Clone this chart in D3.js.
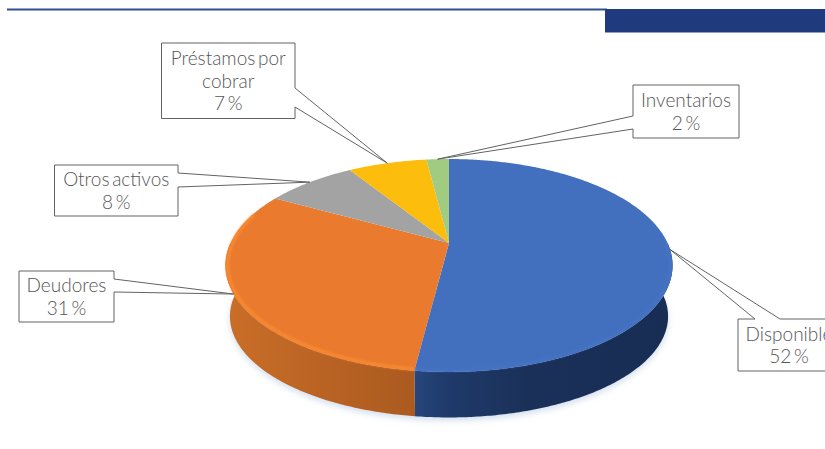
<!DOCTYPE html>
<html lang="es">
<head>
<meta charset="utf-8">
<script src="https://cdn.jsdelivr.net/npm/d3@7"></script>
<style>
  html, body { margin: 0; padding: 0; background: #fff; overflow: hidden; }
  svg { display: block; }
  text { font-family: Lato, "Open Sans", sans-serif; font-weight: 300; font-size: 19px; word-spacing: -2.5px; fill: #565656; text-anchor: middle; }
</style>
</head>
<body>
<svg id="chart" width="825" height="449"></svg>
<script>
// Composition of assets, percentages.
const categories = ["Disponible", "Deudores", "Otros activos", "Préstamos por cobrar", "Inventarios"];
const shares = [52, 31, 8, 7, 2];
const labelLines = [["Disponible"], ["Deudores"], ["Otros activos"], ["Préstamos por", "cobrar"], ["Inventarios"]];
const sliceColors = ["#4270bf", "#ea7a2e", "#a3a3a3", "#fdbd0c", "#a1cb80"];
const rimColors = ["#4674c5", "#f98a30", "#b0b0b0", "#fdc52a", "#add48e"];

// Callout boxes: [x, y, width, height] and the two points where each wedge leaves the box.
const boxes = [[738, 319, 102, 52], [19, 271, 95, 51], [54.5, 165, 123.5, 51], [161.5, 43, 133.5, 75.5], [633, 85, 106, 53]];
const wedgeRoots = [
  [[780, 319], [755, 319]],
  [[114, 279], [114, 292]],
  [[178, 173], [178, 187]],
  [[295, 88], [295, 107]],
  [[633, 116], [633, 129]]
];

const svg = d3.select("#chart");
const defs = svg.append("defs");

// Perspective view of the disc: the pie centre sits above the centre of the projected ellipse.
const apex = { x: 449, y: 243 };
const tilt = 0.211;
const xScale = d3.scaleLinear().domain([-1, 1]).range([apex.x - 218.5, apex.x + 218.5]);
const yScale = d3.scaleLinear().domain([-1, 1]).range([apex.y + 101.7, apex.y - 101.7]);

function project(angle, radius = 1) {
  const u = radius * Math.sin(angle), v = radius * Math.cos(angle), w = 1 + tilt * v;
  return [xScale(u / w), yScale(v / w)];
}
// Lower edge of the disc, used for the side wall.
function projectBase(angle) {
  const [x, y] = project(angle);
  return [apex.x + (x - apex.x) * 0.98, apex.y + (y - apex.y) * 0.95 + 52];
}
function samples(a0, a1) {
  const n = Math.max(2, Math.ceil(Math.abs(a1 - a0) / 0.01));
  return d3.range(n + 1).map(i => a0 + (a1 - a0) * i / n);
}
const line = d3.line();

const arcs = d3.pie().sort(null).value(d => d)(shares);
const HALF = Math.PI / 2;

// Soft shadow under the disc.
defs.append("filter").attr("id", "soft").attr("x", "-10%").attr("y", "-10%").attr("width", "120%").attr("height", "120%")
  .append("feGaussianBlur").attr("stdDeviation", 3);
defs.append("filter").attr("id", "softRim").attr("x", "-10%").attr("y", "-10%").attr("width", "120%").attr("height", "120%")
  .append("feGaussianBlur").attr("stdDeviation", 0.8);

const rimRange = samples(HALF, 3 * HALF);
svg.append("path")
  .attr("d", line(rimRange.map(projectBase).map(([x, y]) => [x, y + 3])) + "Z")
  .attr("fill", "#c3d3e6").attr("opacity", 0.75).attr("filter", "url(#soft)");

// Shading along the side wall, one gradient per visible slice.
const wallStops = {
  0: [["0%", "#27467c"], ["12%", "#1f3a6b"], ["45%", "#1a3058"], ["100%", "#182d54"]],
  1: [["0%", "#c96e28"], ["45%", "#bb6424"], ["100%", "#ab5a20"]]
};
Object.entries(wallStops).forEach(([i, stops]) => {
  const g = defs.append("linearGradient").attr("id", "wall" + i).attr("gradientUnits", "userSpaceOnUse");
  if (+i === 0) g.attr("x1", 415).attr("x2", 672); else g.attr("x1", 230).attr("x2", 415);
  g.attr("y1", 0).attr("y2", 0);
  stops.forEach(([o, c]) => g.append("stop").attr("offset", o).attr("stop-color", c));
});

// Side wall of the front-facing slices.
arcs.forEach((d, i) => {
  const a0 = Math.max(d.startAngle, HALF), a1 = Math.min(d.endAngle, 3 * HALF);
  if (a1 <= a0) return;
  const range = samples(a0, a1);
  const outline = range.map(a => project(a)).concat(range.slice().reverse().map(projectBase));
  svg.append("path").attr("d", line(outline) + "Z").attr("fill", `url(#wall${i})`);
});

// Top face of the disc.
arcs.forEach((d, i) => {
  const outline = [[apex.x, apex.y]].concat(samples(d.startAngle, d.endAngle).map(a => project(a)));
  svg.append("path").attr("d", line(outline) + "Z").attr("fill", sliceColors[i]);
});

// Lit bevel following the front edge of the top face.
arcs.forEach((d, i) => {
  const a0 = Math.max(d.startAngle, HALF), a1 = d.endAngle;
  if (i > 1 || a1 <= a0) return;
  const pts = samples(a0, Math.min(a1, 3 * HALF + 0.3)).map(a => project(a, 0.99));
  svg.append("path").attr("d", line(pts)).attr("fill", "none")
    .attr("stroke", rimColors[i]).attr("stroke-width", i === 0 ? 2 : 3).attr("filter", "url(#softRim)");
});

// Header rule and block.
svg.append("rect").attr("x", 7).attr("y", 8.5).attr("width", 600).attr("height", 2).attr("fill", "#2f4f8f");
svg.append("rect").attr("x", 605).attr("y", 9).attr("width", 220).attr("height", 23.5).attr("fill", "#1f3b7e");

// Callouts: a box whose outline runs out to a point on the slice rim.
arcs.forEach((d, i) => {
  const [bx, by, bw, bh] = boxes[i];
  const tip = project((d.startAngle + d.endAngle) / 2);
  const corners = [[bx, by], [bx + bw, by], [bx + bw, by + bh], [bx, by + bh]];
  const [r0, r1] = wedgeRoots[i];
  const eps = 0.5;
  // The wedge is spliced into whichever side of the box it leaves from.
  let outline;
  if (Math.abs(r0[1] - by) < eps) outline = [corners[0], r1, tip, r0, corners[1], corners[2], corners[3]];
  else if (Math.abs(r0[0] - (bx + bw)) < eps) outline = [corners[0], corners[1], r0, tip, r1, corners[2], corners[3]];
  else outline = [corners[0], corners[1], corners[2], corners[3], r1, tip, r0];
  svg.append("path").attr("d", line(outline) + "Z")
    .attr("fill", "#fff").attr("stroke", "#636363").attr("stroke-width", 1);

  const lines = labelLines[i].concat(`${shares[i]} %`);
  const mid = bx + bw / 2, step = 22.6;
  const first = by + bh / 2 - step * (lines.length - 1) / 2 + 7;
  svg.append("text").attr("aria-label", categories[i]).selectAll("tspan").data(lines).join("tspan")
    .attr("x", mid).attr("y", (_, k) => first + k * step).text(t => t);
});
</script>
</body>
</html>
